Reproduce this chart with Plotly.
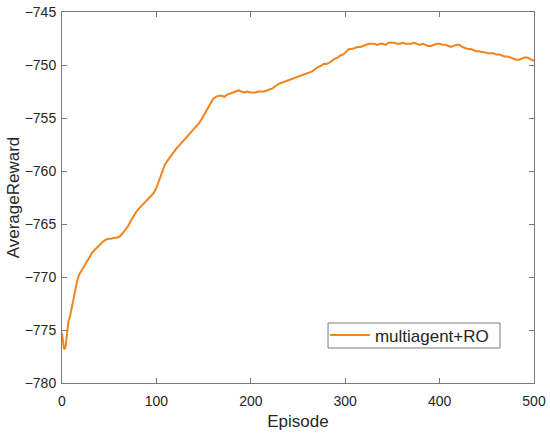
import plotly.graph_objects as go

episodes = [0, 1, 2, 3, 4, 5, 6, 7, 8, 9, 10, 12, 14, 16, 18, 20, 22, 24, 26, 28,
            30, 32, 34, 36, 38, 40, 43, 46, 49, 52, 55, 58, 61, 64, 67, 70, 73, 76, 79, 82,
            85, 88, 91, 94, 97, 100, 103, 106, 109, 112, 115, 118, 121, 124, 127, 130, 133, 136, 139, 142,
            145, 148, 151, 154, 157, 160, 163, 166, 169, 172, 175, 178, 181, 184, 187, 190, 193, 196, 199, 202,
            205, 208, 211, 214, 217, 220, 223, 226, 229, 232, 235, 238, 241, 244, 247, 250, 253, 256, 259, 262,
            265, 268, 271, 274, 277, 280, 283, 286, 289, 292, 295, 298, 301, 304, 307, 310, 313, 316, 319, 322,
            325, 328, 331, 334, 337, 340, 343, 346, 349, 352, 355, 358, 361, 364, 367, 370, 373, 376, 379, 382,
            385, 388, 391, 394, 397, 400, 403, 406, 409, 412, 415, 418, 421, 424, 427, 430, 433, 436, 439, 442,
            445, 448, 451, 454, 457, 460, 463, 466, 469, 472, 475, 478, 481, 484, 487, 490, 493, 496, 499, 500]

reward = [-775.3, -776.2, -776.7, -776.8, -776.5, -775.6, -774.6, -774.1, -773.9, -773.4, -772.9, -772.1, -771.3, -770.4, -769.8, -769.5, -769.2, -768.8, -768.6, -768.3,
          -768.0, -767.7, -767.5, -767.3, -767.2, -766.9, -766.7, -766.5, -766.4, -766.4, -766.3, -766.3, -766.2, -765.9, -765.6, -765.2, -764.7, -764.2, -763.8, -763.5,
          -763.2, -762.9, -762.6, -762.3, -762.1, -761.6, -760.8, -760.0, -759.4, -759.0, -758.6, -758.2, -757.9, -757.6, -757.3, -757.1, -756.8, -756.5, -756.2, -755.9,
          -755.5, -755.1, -754.6, -754.2, -753.6, -753.2, -753.0, -752.9, -752.9, -753.0, -752.8, -752.7, -752.6, -752.5, -752.4, -752.5, -752.6, -752.5, -752.6, -752.6,
          -752.6, -752.5, -752.5, -752.5, -752.4, -752.3, -752.2, -752.0, -751.8, -751.7, -751.6, -751.5, -751.4, -751.3, -751.2, -751.1, -751.0, -750.9, -750.8, -750.7,
          -750.6, -750.4, -750.2, -750.1, -749.9, -749.9, -749.8, -749.6, -749.4, -749.3, -749.1, -749.0, -748.7, -748.5, -748.5, -748.4, -748.3, -748.3, -748.2, -748.1,
          -748.0, -748.0, -748.0, -748.1, -748.0, -748.0, -748.1, -747.9, -747.9, -747.9, -748.0, -748.0, -747.9, -748.0, -748.0, -748.0, -747.9, -748.0, -748.1, -748.0,
          -748.1, -748.2, -748.2, -748.1, -748.0, -748.0, -748.1, -748.1, -748.2, -748.3, -748.2, -748.1, -748.1, -748.3, -748.4, -748.5, -748.5, -748.6, -748.7, -748.7,
          -748.8, -748.8, -748.9, -748.9, -748.9, -749.0, -749.0, -749.1, -749.2, -749.2, -749.3, -749.4, -749.5, -749.5, -749.4, -749.3, -749.3, -749.4, -749.5, -749.6]

series_name = "multiagent+RO"

fig = go.Figure()
fig.add_trace(go.Scatter(x=episodes, y=reward, mode="lines", name=series_name,
                         line=dict(color="#F0841E", width=2)))

axis_common = dict(showline=True, linecolor="#7a7a7a", linewidth=1, mirror="ticks",
                   ticks="inside", ticklen=5, tickcolor="#7a7a7a", showgrid=False,
                   zeroline=False, automargin=False, tickfont=dict(size=14, color="#262626"))

fig.update_layout(
    width=550, height=436,
    margin=dict(l=62, r=16, t=12, b=53),
    paper_bgcolor="white", plot_bgcolor="white",
    font=dict(family="Liberation Sans, Arial, sans-serif", color="#262626"),
    xaxis=dict(range=[0, 500], dtick=100, tick0=0, ticklabelstandoff=5,
               title=dict(text="Episode", font=dict(size=17), standoff=7), **axis_common),
    yaxis=dict(range=[-780, -745], dtick=5, tick0=-780, ticklabelstandoff=2,
               title=dict(text="AverageReward", font=dict(size=17), standoff=0), **axis_common),
    showlegend=True,
    legend=dict(x=0.557, y=0.128, xanchor="left", yanchor="middle",
                borderwidth=0, bgcolor="rgba(0,0,0,0)",
                font=dict(size=17, color="#262626"), itemwidth=40),
    shapes=[dict(type="rect", xref="paper", yref="paper",
                 x0=0.5636, x1=0.928, y0=0.0943, y1=0.1617,
                 line=dict(color="#7a7a7a", width=1), fillcolor="white", layer="above")],
)

fig.write_html("out.html", config={"displayModeBar": False},
               post_script="document.body.style.margin='0px';")
